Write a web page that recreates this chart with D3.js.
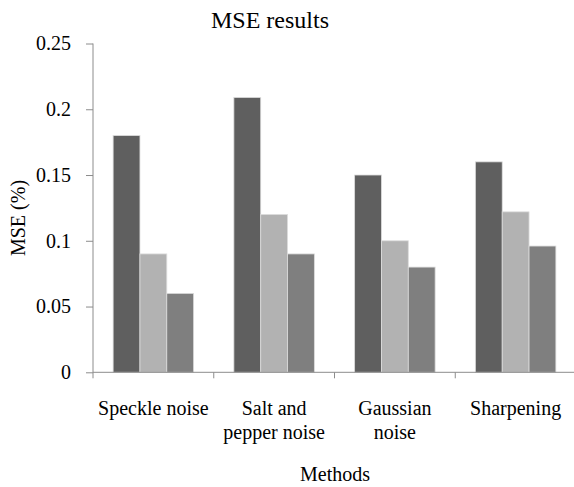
<!DOCTYPE html>
<html>
<head>
<meta charset="utf-8">
<script src="https://cdn.jsdelivr.net/npm/d3@7"></script>
<style>
  html, body { margin: 0; padding: 0; background: #fff; }
  svg { display: block; }
</style>
</head>
<body>
<svg id="chart" width="574" height="487"></svg>
<script>
const serif = '"Liberation Serif", "Times New Roman", Times, serif';

// Methods (categories), each with a line-broken label
const categories = ["Speckle noise", "Salt and pepper noise", "Gaussian noise", "Sharpening"];
const categoryLines = [["Speckle noise"], ["Salt and", "pepper noise"], ["Gaussian", "noise"], ["Sharpening"]];

// MSE values of the three compared series for each method
const seriesNames = ["A", "B", "C"];
const seriesA = [0.18, 0.209, 0.15, 0.16];
const seriesB = [0.09, 0.12, 0.10, 0.122];
const seriesC = [0.06, 0.09, 0.08, 0.096];
const seriesColors = ["#5f5f5f", "#b2b2b2", "#7f7f7f"];

const yTicks = [0, 0.05, 0.1, 0.15, 0.2, 0.25];
const yTickLabels = ["0", "0.05", "0.1", "0.15", "0.2", "0.25"];

const svg = d3.select("#chart");

const plot = { left: 93, right: 576, top: 43.5, bottom: 372.3 };

const x = d3.scaleBand()
  .domain(categories)
  .range([plot.left, plot.right])
  .paddingInner(0)
  .paddingOuter(0);

// bars take 3 of 4.5 bar-widths in each band (gap width 150%)
const bw = x.bandwidth();
const gap = bw / 4.5 * 1.5;
const xInner = d3.scaleBand()
  .domain(seriesNames)
  .range([gap / 2, bw - gap / 2])
  .padding(0);

const y = d3.scaleLinear()
  .domain([0, 0.25])
  .range([plot.bottom, plot.top]);

const allSeries = [seriesA, seriesB, seriesC];
const rows = categories.map((c, i) => ({
  cat: c,
  vals: seriesNames.map((s, j) => ({ key: s, value: allSeries[j][i], color: seriesColors[j] }))
}));

// bars
const groups = svg.append("g")
  .selectAll("g")
  .data(rows)
  .join("g")
  .attr("transform", d => `translate(${x(d.cat)},0)`);

groups.selectAll("rect")
  .data(d => d.vals)
  .join("rect")
  .attr("x", d => xInner(d.key))
  .attr("width", xInner.bandwidth())
  .attr("y", d => y(d.value))
  .attr("height", d => y(0) - y(d.value))
  .attr("fill", d => d.color)
  .attr("stroke", "#dcdcdc")
  .attr("stroke-width", 0.8);

// y axis
const yAxis = d3.axisLeft(y)
  .tickValues(yTicks)
  .tickFormat((d, i) => yTickLabels[i])
  .tickSize(7)
  .tickPadding(15);

const gy = svg.append("g")
  .attr("transform", `translate(${plot.left},0)`)
  .call(yAxis)
  .attr("font-family", serif)
  .attr("font-size", 20);
gy.select(".domain").attr("stroke", "#8c8c8c").attr("d", `M0,${plot.top}V${plot.bottom + 6}`);
gy.selectAll(".tick line").attr("stroke", "#8c8c8c");
gy.selectAll(".tick text").attr("fill", "#000");

// x axis line with boundary ticks between methods
const gx = svg.append("g");
gx.append("line")
  .attr("x1", plot.left).attr("x2", plot.right)
  .attr("y1", y(0)).attr("y2", y(0))
  .attr("stroke", "#8c8c8c");
const boundaries = categories.slice(1).map(c => x(c));
gx.selectAll("line.b")
  .data(boundaries)
  .join("line")
  .attr("class", "b")
  .attr("x1", d => d).attr("x2", d => d)
  .attr("y1", y(0)).attr("y2", y(0) + 6)
  .attr("stroke", "#8c8c8c");

// category labels
const labels = svg.append("g")
  .attr("font-family", serif)
  .attr("font-size", 20)
  .selectAll("text")
  .data(categories.map((c, i) => ({ cat: c, lines: categoryLines[i] })))
  .join("text")
  .attr("x", d => x(d.cat) + bw / 2)
  .attr("y", 415)
  .attr("text-anchor", "middle");
labels.selectAll("tspan")
  .data(d => d.lines.map(l => ({ l, x: x(d.cat) + bw / 2 })))
  .join("tspan")
  .attr("x", d => d.x)
  .attr("dy", (d, i) => i === 0 ? 0 : 24)
  .text(d => d.l);

// title
svg.append("text")
  .attr("x", 270)
  .attr("y", 28)
  .attr("text-anchor", "middle")
  .attr("font-family", serif)
  .attr("font-size", 24)
  .text("MSE results");

// axis titles
svg.append("text")
  .attr("x", 335)
  .attr("y", 481)
  .attr("text-anchor", "middle")
  .attr("font-family", serif)
  .attr("font-size", 20)
  .text("Methods");

svg.append("text")
  .attr("transform", "translate(25,218) rotate(-90)")
  .attr("text-anchor", "middle")
  .attr("font-family", serif)
  .attr("font-size", 20)
  .text("MSE (%)");
</script>
</body>
</html>
